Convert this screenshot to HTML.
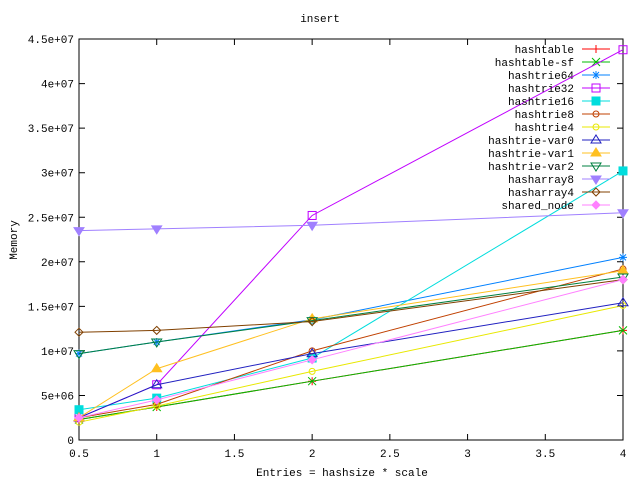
<!DOCTYPE html><html><head><style>body{margin:0;background:#fff}svg{display:block}text{font-family:"Liberation Mono",monospace;font-size:11px}</style></head><body>
<svg id="s" width="640" height="480" xmlns="http://www.w3.org/2000/svg">
<rect x="79" y="39" width="544" height="401" fill="none" stroke="#000"/>
<text x="320" y="22" text-anchor="middle">insert</text>
<text x="342" y="476" text-anchor="middle">Entries = hashsize * scale</text>
<text transform="translate(17,240) rotate(-90)" text-anchor="middle">Memory</text>
<g id="ax"></g><g id="ser"></g>
</svg>
<script>
var s=document.getElementById('ser'),ax=document.getElementById('ax'),NS='http://www.w3.org/2000/svg';
function el(t,a,p,txt){var e=document.createElementNS(NS,t);for(var k in a)e.setAttribute(k,a[k]);if(txt)e.textContent=txt;(p||s).appendChild(e);return e;}
function X(v){return 79+(v-0.5)*155.43}function Y(v){return 440-v*8.91}
var yl=['0','5e+06','1e+07','1.5e+07','2e+07','2.5e+07','3e+07','3.5e+07','4e+07','4.5e+07'];
for(var i=0;i<10;i++){var y=Y(i*5);el('path',{d:'M79 '+y+'h6M623 '+y+'h-6',stroke:'#000'},ax);el('text',{x:74,y:y+4,'text-anchor':'end'},ax,yl[i]);}
for(var i=0;i<8;i++){var v=0.5+i*0.5,x=X(v);el('path',{d:'M'+x+' 440v-6M'+x+' 39v6',stroke:'#000'},ax);el('text',{x:x,y:457,'text-anchor':'middle'},ax,String(v));}
var xs=[0.5,1,2,4];
var D=[['hashtable','#f00',[2.3,3.7,6.6,12.3],'+'],
['hashtable-sf','#0b0',[2.3,3.7,6.6,12.3],'x'],
['hashtrie64','#0080ff',[9.7,11,13.5,20.5],'*'],
['hashtrie32','#c000ff',[2.5,6.2,25.2,43.8],'s'],
['hashtrie16','#0dd',[3.4,4.7,9.2,30.2],'S'],
['hashtrie8','#c04000',[2.5,4,10,19.2],'o'],
['hashtrie4','#e8e800',[2,3.8,7.7,15.1],'o'],
['hashtrie-var0','#2020c0',[2.5,6.2,9.7,15.4],'t'],
['hashtrie-var1','#ffc020',[2.5,8,13.6,19],'T'],
['hashtrie-var2','#008040',[9.7,11,13.4,18.3],'v'],
['hasharray8','#a080ff',[23.5,23.7,24.1,25.5],'V'],
['hasharray4','#804000',[12.1,12.3,13.3,18],'d'],
['shared_node','#ff80ff',[2.5,4.5,9,18],'D']];
function mk(x,y,t,c){
if(t=='+')el('path',{d:'M'+(x-4)+' '+y+'h8M'+x+' '+(y-4)+'v8',stroke:c});
else if(t=='x')el('path',{d:'M'+(x-4)+' '+(y-4)+'l8 8M'+(x-4)+' '+(y+4)+'l8 -8',stroke:c});
else if(t=='*')el('path',{d:'M'+(x-4)+' '+y+'h8M'+x+' '+(y-4)+'v8M'+(x-3)+' '+(y-3)+'l6 6M'+(x-3)+' '+(y+3)+'l6 -6',stroke:c});
else if(t=='s'||t=='S')el('rect',{x:x-4,y:y-4,width:8,height:8,stroke:c,fill:t=='S'?c:'none'});
else if(t=='o')el('circle',{cx:x,cy:y,r:3,stroke:c,fill:'none'});
else if(t=='t'||t=='T')el('path',{d:'M'+x+' '+(y-5)+'l5 8h-10z',stroke:c,fill:t=='T'?c:'none'});
else if(t=='v'||t=='V')el('path',{d:'M'+x+' '+(y+5)+'l5 -8h-10z',stroke:c,fill:t=='V'?c:'none'});
else el('path',{d:'M'+x+' '+(y-4)+'l4 4l-4 4l-4 -4z',stroke:c,fill:t=='D'?c:'none'});}
D.forEach(function(d,i){var p='';for(var j=0;j<4;j++)p+=(j?'L':'M')+X(xs[j])+' '+Y(d[2][j]);
el('path',{d:p,stroke:d[1],fill:'none'});for(var j=0;j<4;j++)mk(X(xs[j]),Y(d[2][j]),d[3],d[1]);
var ly=49+i*13;el('text',{x:574,y:ly+4,'text-anchor':'end'},s,d[0]);el('path',{d:'M582 '+ly+'h28',stroke:d[1]});mk(596,ly,d[3],d[1]);});
</script></body></html>
